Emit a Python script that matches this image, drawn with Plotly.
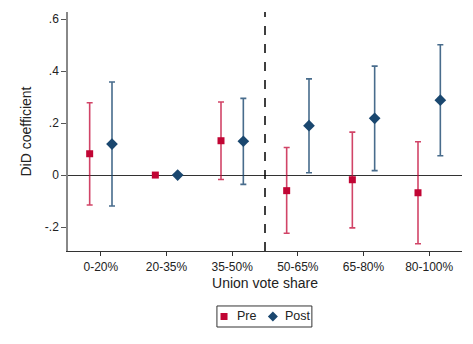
import plotly.graph_objects as go

# category labels on the x axis
categories = ['0-20%', '20-35%', '35-50%', '50-65%', '65-80%', '80-100%']

# DiD estimates with 95% CI bounds
pre_coef = [0.082, 0.0, 0.132, -0.060, -0.018, -0.068]
pre_lo = [-0.115, 0.0, -0.017, -0.224, -0.203, -0.264]
pre_hi = [0.278, 0.0, 0.281, 0.106, 0.165, 0.128]

post_coef = [0.119, 0.0, 0.130, 0.190, 0.218, 0.288]
post_lo = [-0.119, 0.0, -0.036, 0.009, 0.017, 0.074]
post_hi = [0.358, 0.0, 0.295, 0.370, 0.419, 0.501]

y_ticks = [-0.2, 0, 0.2, 0.4, 0.6]
y_tick_text = ['-.2', '0', '.2', '.4', '.6']

PRE_COLOR = '#c10534'
POST_COLOR = '#1a476f'
FONT = 'Liberation Sans, Arial, sans-serif'

pos = list(range(1, len(categories) + 1))
off = 0.17

fig = go.Figure()

fig.add_trace(go.Scatter(
    x=[p - off for p in pos], y=pre_coef, mode='markers', name='Pre',
    marker=dict(symbol='square', size=7, color=PRE_COLOR),
    error_y=dict(type='data', symmetric=False,
                 array=[h - c for h, c in zip(pre_hi, pre_coef)],
                 arrayminus=[c - l for c, l in zip(pre_coef, pre_lo)],
                 color='rgba(193,5,52,0.75)', thickness=1.6, width=3),
))

fig.add_trace(go.Scatter(
    x=[p + off for p in pos], y=post_coef, mode='markers', name='Post',
    marker=dict(symbol='diamond', size=9, color=POST_COLOR),
    error_y=dict(type='data', symmetric=False,
                 array=[h - c for h, c in zip(post_hi, post_coef)],
                 arrayminus=[c - l for c, l in zip(post_coef, post_lo)],
                 color='rgba(26,71,111,0.8)', thickness=1.6, width=3),
))

# dashed separator between 35-50% and 50-65%
fig.add_vline(x=3.5, line=dict(color='black', width=1.5, dash='dash'))

# compact boxed legend under the x title (plotly's own legend is too wide)
ly = -0.274
fig.add_shape(type='rect', xref='paper', yref='paper',
              x0=0.378, x1=0.619, y0=-0.318, y1=-0.230,
              line=dict(color='#333', width=1), fillcolor='white')
fig.add_shape(type='rect', xref='paper', yref='paper',
              x0=0.396 - 0.0089, x1=0.396 + 0.0089,
              y0=ly - 0.0146, y1=ly + 0.0146,
              line=dict(width=0), fillcolor=PRE_COLOR)
dx, dy = 0.0127, 0.0209
fig.add_shape(type='path', xref='paper', yref='paper',
              path=f'M {0.520 - dx},{ly} L 0.520,{ly + dy} L {0.520 + dx},{ly} L 0.520,{ly - dy} Z',
              line=dict(width=0), fillcolor=POST_COLOR)
for txt, lx in [('Pre', 0.424), ('Post', 0.546)]:
    fig.add_annotation(text=txt, xref='paper', yref='paper', x=lx, y=ly,
                       xanchor='left', yanchor='middle', showarrow=False,
                       font=dict(size=12.5))

# the page body has an 8px margin, so margins are shifted by that amount
fig.update_layout(
    width=473, height=344,
    margin=dict(l=60, r=19, t=4, b=101, autoexpand=False),
    plot_bgcolor='white', paper_bgcolor='white',
    font=dict(family=FONT, size=12, color='#222'),
    showlegend=False,
)

fig.update_xaxes(
    range=[0.5, 6.5], tickvals=pos, ticktext=categories,
    ticks='outside', ticklen=4, tickcolor='#333',
    showline=True, linecolor='#333', linewidth=1.3,
    showgrid=False, zeroline=False,
    title=dict(text='Union vote share', standoff=5),
)

fig.update_yaxes(
    range=[-0.292, 0.627], tickvals=y_ticks, ticktext=y_tick_text,
    ticks='outside', ticklen=5, tickcolor='#555',
    showline=True, linecolor='#888', linewidth=1.5,
    showgrid=False, zeroline=True, zerolinecolor='#333', zerolinewidth=1.2,
    title=dict(text='DiD coefficient', standoff=10),
)

fig.write_html('out.html')
